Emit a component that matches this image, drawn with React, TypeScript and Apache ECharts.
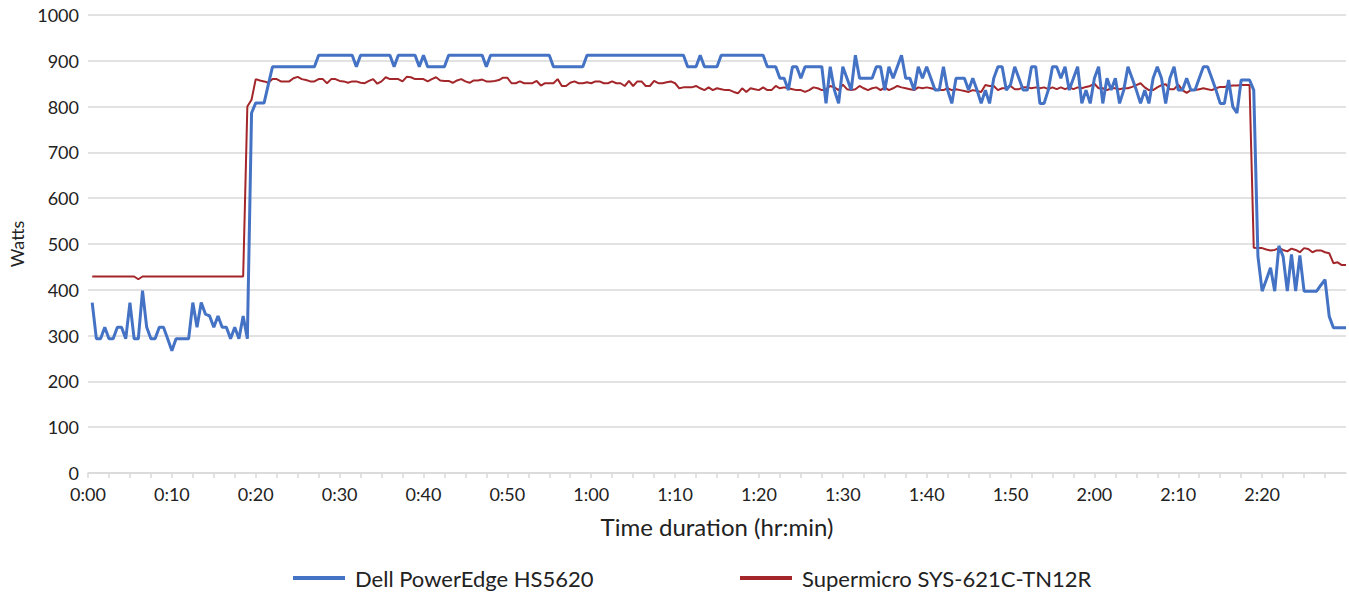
import React, { useEffect, useRef } from "react";
import * as echarts from "echarts";

// Sampling interval of the power log (minutes); first sample at 0:00:30
const SAMPLE_STEP_MIN = 0.5;

const seriesNames = ["Dell PowerEdge HS5620", "Supermicro SYS-621C-TN12R"];
const seriesColors = ["#4472C4", "#A3262A"];

// Watts, one value every 30 s, 10 minutes per row
const dellWatts = [
  372, 293, 293, 318, 293, 293, 318, 318, 293, 372, 293, 293, 398, 318, 293, 293, 318, 318, 293, 267,
  293, 293, 293, 293, 372, 318, 372, 347, 343, 318, 343, 318, 318, 293, 318, 293, 343, 293, 786, 808,
  808, 808, 848, 887, 887, 887, 887, 887, 887, 887, 887, 887, 887, 887, 912, 912, 912, 912, 912, 912,
  912, 912, 912, 887, 912, 912, 912, 912, 912, 912, 912, 912, 887, 912, 912, 912, 912, 912, 887, 912,
  887, 887, 887, 887, 887, 912, 912, 912, 912, 912, 912, 912, 912, 912, 887, 912, 912, 912, 912, 912,
  912, 912, 912, 912, 912, 912, 912, 912, 912, 912, 887, 887, 887, 887, 887, 887, 887, 887, 912, 912,
  912, 912, 912, 912, 912, 912, 912, 912, 912, 912, 912, 912, 912, 912, 912, 912, 912, 912, 912, 912,
  912, 912, 887, 887, 887, 912, 887, 887, 887, 887, 912, 912, 912, 912, 912, 912, 912, 912, 912, 912,
  912, 887, 887, 887, 862, 862, 836, 887, 887, 862, 887, 887, 887, 887, 887, 807, 887, 836, 807, 887,
  862, 836, 912, 862, 862, 862, 862, 887, 887, 836, 887, 862, 887, 912, 862, 862, 836, 887, 862, 887,
  862, 836, 836, 887, 836, 807, 862, 862, 862, 836, 862, 836, 807, 836, 807, 862, 887, 887, 836, 848,
  887, 862, 836, 836, 887, 887, 807, 807, 836, 887, 887, 862, 887, 836, 862, 887, 807, 836, 807, 862,
  887, 807, 862, 836, 862, 807, 836, 887, 862, 836, 807, 836, 807, 862, 887, 862, 807, 862, 887, 836,
  836, 862, 836, 836, 862, 887, 887, 862, 836, 807, 807, 858, 800, 786, 858, 858, 858, 836, 473, 397,
  422, 448, 397, 496, 473, 397, 477, 397, 475, 397, 397, 397, 397, 410, 422, 342, 317, 317, 317, 317,
];

const supermicroWatts = [
  429, 429, 429, 429, 429, 429, 429, 429, 429, 429, 429, 423, 429, 429, 429, 429, 429, 429, 429, 429,
  429, 429, 429, 429, 429, 429, 429, 429, 429, 429, 429, 429, 429, 429, 429, 429, 429, 800, 815, 860,
  857, 855, 852, 860, 860, 855, 855, 855, 862, 865, 860, 858, 855, 855, 860, 860, 851, 860, 860, 856,
  855, 852, 855, 855, 852, 851, 856, 860, 850, 855, 864, 860, 860, 860, 855, 865, 864, 860, 860, 860,
  855, 860, 864, 857, 856, 856, 852, 857, 860, 855, 852, 857, 857, 859, 855, 855, 856, 858, 863, 863,
  851, 851, 855, 851, 851, 851, 856, 846, 851, 851, 851, 860, 845, 845, 852, 855, 851, 851, 853, 851,
  855, 855, 851, 851, 855, 851, 851, 845, 856, 845, 855, 855, 845, 845, 856, 851, 851, 853, 855, 851,
  840, 842, 842, 842, 845, 840, 836, 842, 836, 840, 838, 836, 836, 832, 829, 840, 832, 840, 838, 836,
  842, 836, 836, 845, 840, 842, 840, 838, 836, 836, 832, 836, 842, 840, 836, 838, 845, 842, 836, 848,
  838, 836, 838, 845, 840, 836, 840, 842, 836, 842, 836, 840, 845, 842, 840, 838, 836, 842, 840, 842,
  840, 838, 836, 836, 840, 836, 838, 836, 834, 832, 836, 834, 832, 847, 845, 845, 836, 840, 840, 845,
  838, 838, 842, 842, 840, 842, 840, 842, 838, 842, 838, 842, 838, 842, 838, 842, 840, 843, 845, 850,
  840, 840, 836, 840, 840, 838, 840, 840, 843, 847, 851, 842, 836, 836, 842, 847, 849, 838, 838, 848,
  836, 830, 836, 836, 838, 840, 838, 836, 840, 843, 843, 845, 846, 846, 847, 847, 847, 492, 491, 491,
  488, 486, 487, 491, 487, 484, 490, 487, 482, 491, 489, 482, 486, 486, 482, 480, 458, 460, 454, 454,
];

const X_MIN = 0;
const X_MAX = 150;
const X_TICK_STEP = 2.5;
const X_LABEL_STEP = 10;
const Y_MIN = 0;
const Y_MAX = 1000;
const Y_STEP = 100;

const FONT = "Lato, 'Noto Sans', sans-serif";
const TEXT = "#222222";
const GRID_GRAY = "#d9d9d9";

function fmtTime(m: number): string {
  const h = Math.floor(m / 60);
  const mm = Math.round(m % 60);
  return `${h}:${String(mm).padStart(2, "0")}`;
}

function toPairs(values: number[]): [number, number][] {
  return values.map((v, i) => [(i + 1) * SAMPLE_STEP_MIN, v]);
}

export default function App() {
  const ref = useRef<HTMLDivElement>(null);

  useEffect(() => {
    document.body.style.margin = "0";
    if (!ref.current) return;
    const chart = echarts.init(ref.current, undefined, { renderer: "svg" });
    const legendBase = {
      top: 562,
      padding: 5,
      itemWidth: 52,
      itemHeight: 4,
      icon: "rect",
      textStyle: { fontFamily: FONT, fontSize: 22, color: TEXT, padding: [0, 0, 0, 5] },
      itemGap: 10,
    };
    chart.setOption({
      animation: false,
      textStyle: { fontFamily: FONT },
      grid: {
        left: 88,
        right: 3,
        top: 15,
        bottom: 119,
        containLabel: false,
        outerBoundsMode: "none",
      },
      legend: [
        { ...legendBase, left: 288, data: [seriesNames[0]] },
        { ...legendBase, left: 735, data: [seriesNames[1]] },
      ],
      xAxis: {
        type: "value",
        min: X_MIN,
        max: X_MAX,
        interval: X_TICK_STEP,
        name: "Time duration (hr:min)",
        nameLocation: "middle",
        nameGap: 41,
        nameTextStyle: { fontFamily: FONT, fontSize: 24, color: TEXT },
        axisLine: { show: true, lineStyle: { color: GRID_GRAY, width: 1.5 } },
        axisTick: { show: true, length: 5, lineStyle: { color: GRID_GRAY, width: 1.5 } },
        axisLabel: {
          fontFamily: FONT,
          fontSize: 18,
          lineHeight: 18,
          color: TEXT,
          margin: 12,
          showMaxLabel: false,
          formatter: (v: number) =>
            Math.abs(v % X_LABEL_STEP) < 1e-6 && v < X_MAX ? fmtTime(v) : "",
        },
        splitLine: { show: false },
      },
      yAxis: {
        type: "value",
        min: Y_MIN,
        max: Y_MAX,
        interval: Y_STEP,
        name: "Watts",
        nameLocation: "middle",
        nameGap: 62,
        nameTextStyle: { fontFamily: FONT, fontSize: 18, color: TEXT },
        axisLine: { show: false },
        axisTick: { show: false },
        axisLabel: {
          fontFamily: FONT,
          fontSize: 18,
          lineHeight: 15,
          color: TEXT,
          margin: 9,
          formatter: (v: number) => String(v),
        },
        splitLine: { lineStyle: { color: GRID_GRAY, width: 1.5 } },
      },
      series: [
        {
          name: seriesNames[1],
          type: "line",
          data: toPairs(supermicroWatts),
          showSymbol: false,
          symbol: "none",
          color: seriesColors[1],
          lineStyle: { color: seriesColors[1], width: 2 },
          z: 2,
        },
        {
          name: seriesNames[0],
          type: "line",
          data: toPairs(dellWatts),
          showSymbol: false,
          symbol: "none",
          color: seriesColors[0],
          lineStyle: { color: seriesColors[0], width: 3 },
          z: 3,
        },
      ],
    });
    return () => chart.dispose();
  }, []);

  return (
    <div
      ref={ref}
      style={{ position: "absolute", left: 0, top: 0, width: 1349, height: 592 }}
    />
  );
}
